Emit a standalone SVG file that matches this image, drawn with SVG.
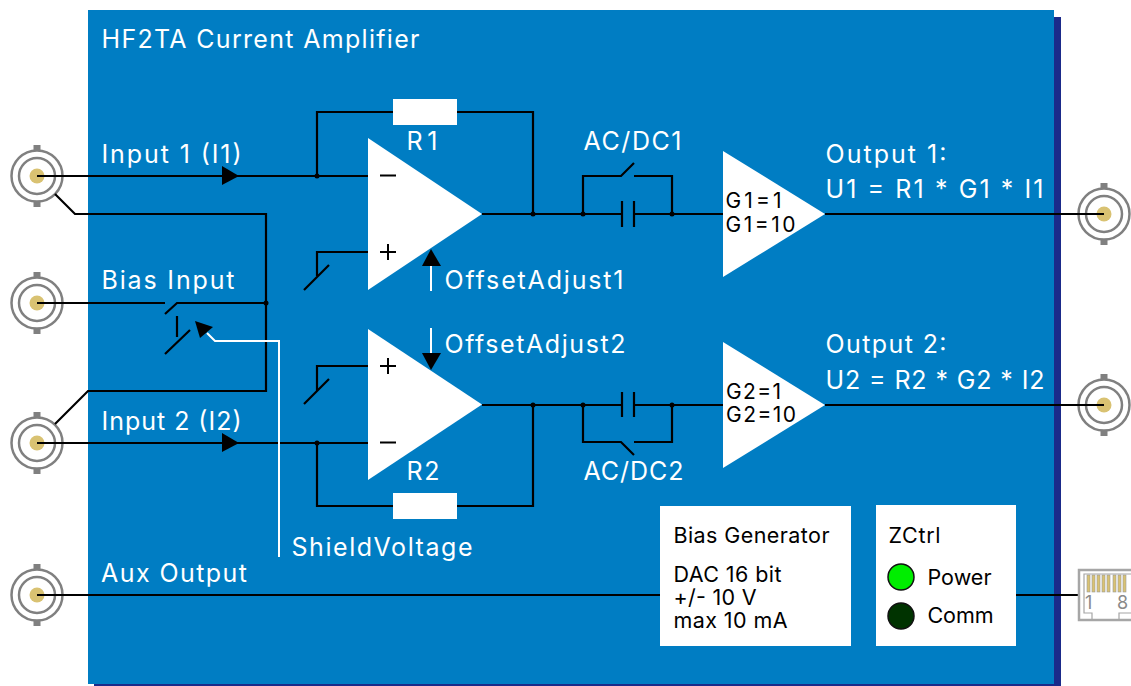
<svg xmlns="http://www.w3.org/2000/svg" width="1131" height="686" viewBox="0 0 1131 686">
<style>
text{font-family:Inter,"Liberation Sans",sans-serif;font-size:25px;fill:#fff}
text.b{fill:#000;font-size:21.500px}
text.g{fill:#000;font-size:21px}
.w{fill:none;stroke:#000;stroke-width:2.2}
.sw{fill:none;stroke:#fff;stroke-width:2}
.amp,.res{fill:#fff}
.dot{fill:#000}
.ring{fill:none;stroke:#808080;stroke-width:2.5}
.tab{fill:#808080}
.pin{fill:#d9c272}
.rjp{fill:#d9c272;stroke:#999;stroke-width:.6}
.s{stroke:#000;stroke-width:2;fill:none}
</style>
<defs>
<g id="bnc">
<rect class="tab" x="-3.500" y="-31" width="7" height="6"/>
<rect class="tab" x="-3.500" y="25" width="7" height="6"/>
<circle r="25.500" class="ring" style="fill:#fff"/>
<circle r="18" class="ring"/>
<circle r="7.500" class="pin"/>
</g>
</defs>
<g id="panel">
<rect x="94" y="17" width="967" height="669" fill="#1a2a8a"/>
<rect x="88" y="10" width="966" height="674" fill="#007dc3"/>
</g>
<g id="bnc-i1"><use href="#bnc" x="37" y="176"/></g>
<g id="bnc-bias"><use href="#bnc" x="37" y="303"/></g>
<g id="bnc-i2"><use href="#bnc" x="37" y="443"/></g>
<g id="bnc-aux"><use href="#bnc" x="37" y="595"/></g>
<g id="bnc-o1"><use href="#bnc" x="1104" y="214"/></g>
<g id="bnc-o2"><use href="#bnc" x="1104" y="405"/></g>
<g id="opamp1"><polygon class="amp" points="368,138 482,214 368,290"/><path class="s" d="M380 175.500H396M380 252H396M388 244V260"/></g>
<g id="opamp2"><polygon class="amp" points="368,329 482,404.500 368,480"/><path class="s" d="M380 442.500H396M380 366H396M388 358V374"/></g>
<g id="r1"><rect class="res" x="393" y="99" width="64" height="26"/></g>
<g id="r2"><rect class="res" x="393" y="493" width="64" height="26"/></g>
<g id="gain1"><polygon class="amp" points="723,151 825,214 723,277"/><text class="g" x="725.500" y="208" textLength="56">G1=1</text><text class="g" x="725.500" y="232" textLength="70">G1=10</text></g>
<g id="gain2"><polygon class="amp" points="723,342 825,405 723,468"/><text class="g" x="726" y="399" textLength="55">G2=1</text><text class="g" x="726" y="422" textLength="70">G2=10</text></g>
<g id="connectors">
<path class="w" d="M37 176H368M317 176V112H393M457 112H533V214M482 214H622M634 214H723M583 214V176H621L634 163M634 176H672V214M622 201V227M634 201V227"/>
<path class="w" d="M55 194L75 214H266V391H88L55 424"/>
<path class="w" d="M37 303H165M165 314L177 303H266M177 316V337M165 354L190 330"/>
<path class="w" d="M37 443H368M317 443V506H393M457 506H533V405M482 405H622M634 405H723M583 405V442H621L634 455M634 442H672V405M622 392V417M634 392V417"/>
<path class="w" d="M368 252H317V276M304 290L329 265M368 366H317V391M304 404L329 379"/>
<path class="w" d="M825 214H1104M825 405H1104M37 595H660M1016 595H1078"/>
<path class="sw" d="M207 333L215 341H279V557M431 266V291M431 328V353"/>
<polygon class="dot" points="222,166 239,176 222,185"/>
<polygon class="dot" points="222,433 239,443 222,452"/>
<polygon class="dot" points="195,321 213,327 200,338"/>
<polygon class="dot" points="431,249 422,266 441,266"/>
<polygon class="dot" points="431,370 422,353 441,353"/>
<circle class="dot" cx="266" cy="303" r="2.500"/>
<circle class="dot" cx="317" cy="176" r="2.500"/>
<circle class="dot" cx="533" cy="214" r="2.500"/>
<circle class="dot" cx="583" cy="214" r="2.500"/>
<circle class="dot" cx="672" cy="214" r="2.500"/>
<circle class="dot" cx="317" cy="443" r="2.500"/>
<circle class="dot" cx="533" cy="405" r="2.500"/>
<circle class="dot" cx="583" cy="405" r="2.500"/>
<circle class="dot" cx="672" cy="405" r="2.500"/>
</g>
<g id="bias-generator"><rect class="res" x="660" y="506" width="191" height="140"/>
<text class="b" x="673.500" y="543" textLength="156">Bias Generator</text>
<text class="b" x="673.500" y="582" textLength="108">DAC 16 bit</text>
<text class="b" x="673.500" y="605" textLength="83">+/- 10 V</text>
<text class="b" x="673.500" y="628" textLength="114">max 10 mA</text></g>
<g id="zctrl"><rect class="res" x="876" y="505" width="140" height="141"/>
<text class="b" x="888.500" y="543" textLength="52">ZCtrl</text>
<circle cx="901" cy="577" r="13" fill="#00ee00" stroke="#111" stroke-width="1.500"/>
<text class="b" x="927.500" y="585" textLength="64">Power</text>
<circle cx="901" cy="616" r="13" fill="#003300" stroke="#111" stroke-width="1.500"/>
<text class="b" x="927.500" y="623" textLength="66">Comm</text></g>
<g id="rj45">
<rect x="1079" y="570" width="60" height="50" fill="#fff" stroke="#a6a6a6" stroke-width="2.500"/>
<path d="M1140 574H1084V613H1092V620M1119 620V613H1140" fill="none" stroke="#a6a6a6" stroke-width="1.200"/>
<rect class="rjp" x="1087" y="575" width="3" height="17"/><rect class="rjp" x="1092" y="575" width="3" height="17"/><rect class="rjp" x="1097" y="575" width="3" height="17"/><rect class="rjp" x="1102" y="575" width="3" height="17"/><rect class="rjp" x="1107" y="575" width="3" height="17"/><rect class="rjp" x="1113" y="575" width="3" height="17"/><rect class="rjp" x="1118" y="575" width="3" height="17"/><rect class="rjp" x="1123" y="575" width="3" height="17"/>
<text x="1085" y="609" style="fill:#8a8a8a;font-size:18px">1</text><text x="1117" y="609" style="fill:#8a8a8a;font-size:18px">8</text>
</g>
<g id="labels">
<text x="101.500" y="48" textLength="318">HF2TA Current Amplifier</text>
<text x="101.500" y="163" textLength="140">Input 1 (I1)</text>
<text x="101.500" y="289" textLength="133">Bias Input</text>
<text x="101.500" y="430" textLength="140">Input 2 (I2)</text>
<text x="101" y="582" textLength="146">Aux Output</text>
<text x="291.500" y="556" textLength="181">ShieldVoltage</text>
<text x="406.500" y="150" textLength="31">R1</text>
<text x="406.500" y="480" textLength="33">R2</text>
<text x="444.500" y="289" textLength="179">OffsetAdjust1</text>
<text x="444.500" y="353" textLength="181">OffsetAdjust2</text>
<text x="583.500" y="150" textLength="98">AC/DC1</text>
<text x="583.500" y="480" textLength="100">AC/DC2</text>
<text x="825.500" y="163" textLength="121">Output 1:</text>
<text x="825.500" y="198" textLength="218">U1 = R1 * G1 * I1</text>
<text x="825.500" y="353" textLength="121">Output 2:</text>
<text x="825.500" y="389" textLength="219">U2 = R2 * G2 * I2</text>
</g>
</svg>
